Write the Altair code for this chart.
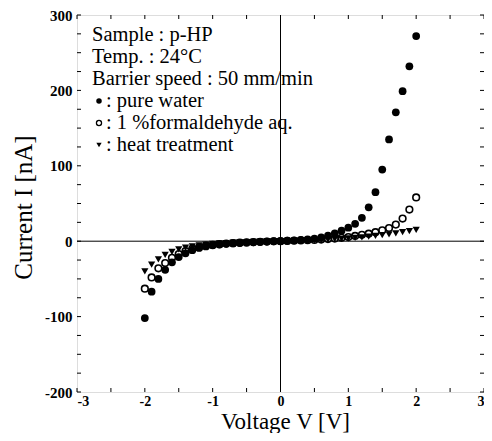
import altair as alt
import pandas as pd

# ---- data ----
voltage = [round(-2.0 + 0.1 * i, 1) for i in range(41)]

pure_water = [-102, -67, -50, -38, -28, -21, -16, -12, -9, -7,
              -5.5, -4.5, -3.5, -3, -2.5, -2, -1.5, -1, -0.5, 0,
              0, 0.7, 1.2, 1.8, 2.5, 3.5, 5, 7.5, 10.5, 14,
              18, 23, 31, 45, 65, 95, 135, 171, 199, 232, 272]

formaldehyde = [-63, -48, -36, -29, -22, -17, -13, -10, -8, -6,
                -5, -4, -3.2, -2.6, -2, -1.5, -1.2, -0.8, -0.5, -0.2,
                0, 0.3, 0.6, 1, 1.3, 1.7, 2.2, 2.8, 3.5, 4.5,
                5.5, 7, 8.5, 10, 12, 14.5, 17.5, 22, 30, 42, 58]

heat = [-40, -31, -24, -18, -14, -11, -8.5, -7, -5.5, -4.5,
        -3.5, -3, -2.5, -2, -1.6, -1.2, -0.9, -0.6, -0.3, -0.1,
        0, 0.2, 0.5, 0.8, 1.1, 1.4, 1.8, 2.2, 2.7, 3.2,
        3.8, 4.5, 5.2, 6, 7, 8, 9, 10.5, 12, 13.5, 15]

x_ticks = [-3, -2.5, -2, -1.5, -1, -0.5, 0, 0.5, 1, 1.5, 2, 2.5, 3]
x_labels = [-3, -2, -1, 0, 1, 2, 3]
y_ticks = list(range(-200, 301, 25))
y_labels = [-200, -100, 0, 100, 200, 300]

info_lines = ["Sample : p-HP", "Temp. : 24\u00b0C", "Barrier speed : 50 mm/min"]
legend_lines = [": pure water", ": 1 %formaldehyde aq.", ": heat treatment"]

W, H = 407, 377
SERIF = "Liberation Serif"

df_pw = pd.DataFrame({"V": voltage, "I": pure_water})
df_fa = pd.DataFrame({"V": voltage, "I": formaldehyde})
df_ht = pd.DataFrame({"V": voltage, "I": heat})

xs = alt.Scale(domain=[-3, 3], nice=False, zero=False)
ys = alt.Scale(domain=[-200, 300], nice=False, zero=False)

xenc = alt.X("V:Q", scale=xs, title="Voltage V [V]",
             axis=alt.Axis(values=x_labels, labelExpr="toString(datum.value)",
                           ticks=False, grid=False, domain=False,
                           labelFont=SERIF, labelFontSize=14, labelFontWeight="bold",
                           labelColor="black", labelPadding=2,
                           titleFont=SERIF, titleFontSize=23, titleFontWeight="normal",
                           titleColor="black", titleX=208, titleY=36,
                           titleBaseline="alphabetic", titleAlign="center"))
yenc = alt.Y("I:Q", scale=ys, title="Current I [nA]",
             axis=alt.Axis(values=y_labels, labelExpr="toString(datum.value)",
                           ticks=False, grid=False, domain=False,
                           labelFont=SERIF, labelFontSize=15, labelFontWeight="bold",
                           labelColor="black", labelPadding=5,
                           titleFont=SERIF, titleFontSize=25, titleFontWeight="normal",
                           titleColor="black", titleX=-46, titleY=192,
                           titleBaseline="alphabetic", titleAlign="center", titleAngle=270))

pw = alt.Chart(df_pw).mark_point(shape="circle", filled=True, color="black",
                                 size=60, opacity=1).encode(x=xenc, y=yenc)
fa = alt.Chart(df_fa).mark_point(shape="circle", filled=False, color="black",
                                 size=44, strokeWidth=1.6, opacity=1).encode(
    x=alt.X("V:Q"), y=alt.Y("I:Q"))
ht = alt.Chart(df_ht).mark_point(shape="triangle-down", filled=True, color="black",
                                 size=52, opacity=1).encode(
    x=alt.X("V:Q"), y=alt.Y("I:Q"))

zero_h = alt.Chart(pd.DataFrame({"I": [0]})).mark_rule(color="black", strokeWidth=1).encode(
    y=alt.Y("I:Q"))
zero_v = alt.Chart(pd.DataFrame({"V": [0]})).mark_rule(color="black", strokeWidth=1).encode(
    x=alt.X("V:Q"))

dfx = pd.DataFrame({"V": x_ticks})
dfy = pd.DataFrame({"I": y_ticks})
tick_style = dict(color="black", strokeWidth=1)
xt_bottom = alt.Chart(dfx).mark_rule(**tick_style).encode(
    x=alt.X("V:Q"), y=alt.value(H), y2=alt.value(H - 4))
xt_top = alt.Chart(dfx).mark_rule(**tick_style).encode(
    x=alt.X("V:Q"), y=alt.value(0), y2=alt.value(4))
yt_left = alt.Chart(dfy).mark_rule(**tick_style).encode(
    y=alt.Y("I:Q"), x=alt.value(0), x2=alt.value(4))
yt_right = alt.Chart(dfy).mark_rule(**tick_style).encode(
    y=alt.Y("I:Q"), x=alt.value(W), x2=alt.value(W - 4))

text_layers = []
for i, t in enumerate(info_lines):
    text_layers.append(
        alt.Chart(pd.DataFrame({"t": [t]})).mark_text(
            font=SERIF, fontSize=20.5, align="left", baseline="alphabetic", color="black"
        ).encode(text="t:N", x=alt.value(15), y=alt.value(26 + 22 * i)))
for i, t in enumerate(legend_lines):
    text_layers.append(
        alt.Chart(pd.DataFrame({"t": [t]})).mark_text(
            font=SERIF, fontSize=20.5, align="left", baseline="alphabetic", color="black"
        ).encode(text="t:N", x=alt.value(29), y=alt.value(92 + 22 * i)))

sym_pw = alt.Chart(pd.DataFrame({"a": [0]})).mark_point(
    shape="circle", filled=True, color="black", size=30, opacity=1).encode(
    x=alt.value(22), y=alt.value(86))
sym_fa = alt.Chart(pd.DataFrame({"a": [0]})).mark_point(
    shape="circle", filled=False, color="black", size=26, strokeWidth=1.3, opacity=1).encode(
    x=alt.value(22), y=alt.value(108))
sym_ht = alt.Chart(pd.DataFrame({"a": [0]})).mark_point(
    shape="triangle-down", filled=True, color="black", size=28, opacity=1).encode(
    x=alt.value(22), y=alt.value(130))

chart = alt.layer(
    pw, zero_h, zero_v, fa, ht,
    xt_bottom, xt_top, yt_left, yt_right,
    *text_layers, sym_pw, sym_fa, sym_ht,
).properties(
    width=W, height=H,
    autosize=alt.AutoSizeParams(type="none"),
    padding={"left": 69, "top": 7, "right": 0, "bottom": 41},
).configure_view(stroke="black", strokeWidth=1.2).configure(background="white")

chart.save("out.html", embed_options={"renderer": "svg", "actions": False})
